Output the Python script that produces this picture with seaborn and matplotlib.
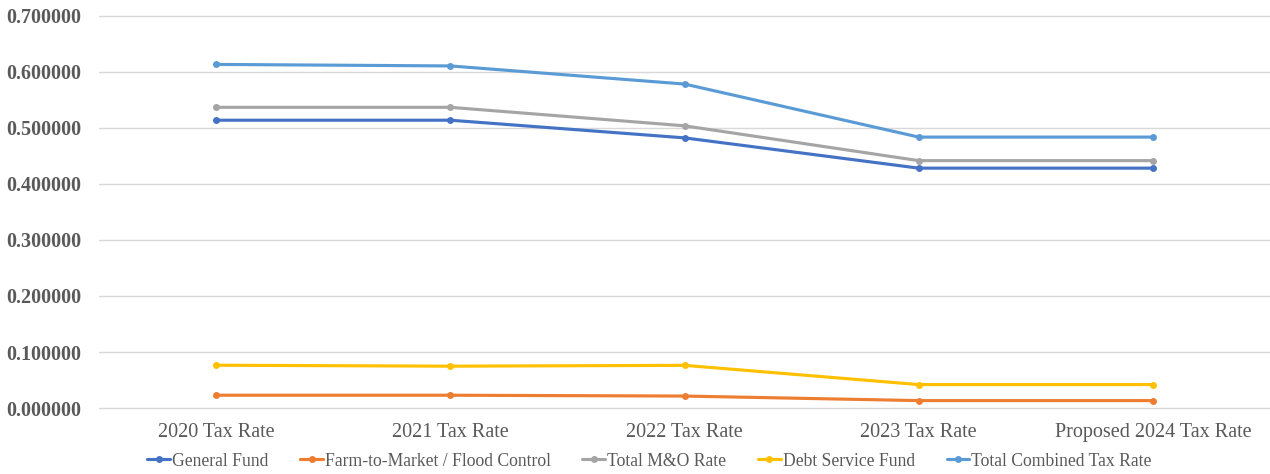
import numpy as np
import matplotlib.pyplot as plt
import seaborn as sns
import pandas as pd
from matplotlib.ticker import FormatStrFormatter

# values
years = ['2020 Tax Rate', '2021 Tax Rate', '2022 Tax Rate', '2023 Tax Rate', 'Proposed 2024 Tax Rate']
generalFund = [0.5135, 0.5135, 0.4820, 0.4280, 0.4280]
farmToMarket = [0.0230, 0.0230, 0.0215, 0.0134, 0.0134]
totalMO = [0.5365, 0.5365, 0.5035, 0.4414, 0.4414]
debtService = [0.0765, 0.0748, 0.0763, 0.0420, 0.0420]
totalCombined = [0.6130, 0.6103, 0.5780, 0.4834, 0.4834]

seriesNames = ['General Fund', 'Farm-to-Market / Flood Control', 'Total M&O Rate',
               'Debt Service Fund', 'Total Combined Tax Rate']
seriesColors = ['#4472C4', '#ED7D31', '#A5A5A5', '#FFC000', '#5B9BD5']

df = pd.concat([pd.DataFrame({'year': years, 'rate': vals, 'series': name})
                for name, vals in zip(seriesNames,
                                      [generalFund, farmToMarket, totalMO, debtService, totalCombined])],
               ignore_index=True)

sns.set_style('white')
plt.rcParams['font.family'] = ['Liberation Serif', 'DejaVu Serif']

fig, ax = plt.subplots(figsize=(12.7, 4.74), dpi=100)
fig.subplots_adjust(left=0.078, right=1.0, top=0.967, bottom=0.139)

sns.lineplot(df, x='year', y='rate', hue='series', palette=seriesColors,
             marker='o', markersize=5, markeredgewidth=0, linewidth=2.25,
             sort=False, ax=ax)

ax.set_ylim(0, 0.7)
ax.set_yticks(np.arange(0, 0.71, 0.1))
ax.yaxis.set_major_formatter(FormatStrFormatter('%.6f'))
ax.set_xlim(-0.5, 4.5)
ax.grid(axis='y', color='#d9d9d9', linewidth=1)
for gl in ax.get_ygridlines():
    gl.set_clip_on(False)
ax.set_axisbelow(True)
for s in ax.spines.values():
    s.set_visible(False)
ax.set_xlabel('')
ax.set_ylabel('')
ax.tick_params(axis='both', length=0)
ax.tick_params(axis='x', labelsize=14.5, labelcolor='#595959', pad=11)
ax.tick_params(axis='y', labelsize=14.5, labelcolor='#595959', pad=13)
for lbl in ax.get_yticklabels():
    lbl.set_fontweight('bold')

handles, labels = ax.get_legend_handles_labels()
ax.legend(handles, labels, loc='center', bbox_to_anchor=(0.47, -0.135), ncol=5,
          frameon=False, fontsize=12.7, labelcolor='#595959', handlelength=1.3,
          handletextpad=0.1, columnspacing=1.8)

fig.savefig('out.png', dpi=100)
